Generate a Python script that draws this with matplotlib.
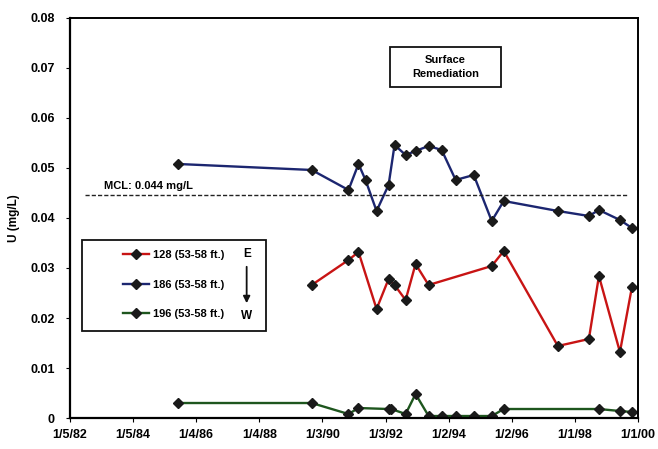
import matplotlib
matplotlib.use("Agg")
import matplotlib.pyplot as plt
from matplotlib.patches import Rectangle
import datetime as dt

plt.rcParams['font.family'] = ['Liberation Sans', 'DejaVu Sans']

# ---- data ----
red_dates = ["1989-09-01", "1990-10-31", "1991-02-24", "1991-09-21", "1992-02-07", "1992-04-16",
             "1992-08-22", "1992-12-15", "1993-05-15", "1995-05-15", "1995-10-01", "1997-06-18",
             "1998-06-12", "1998-10-06", "1999-06-06", "1999-10-23"]
red_vals = [0.0266, 0.0316, 0.0332, 0.0218, 0.0278, 0.0266, 0.0236, 0.0308, 0.0266,
            0.0304, 0.0334, 0.0144, 0.0158, 0.0284, 0.0132, 0.0262]

blue_dates = ["1985-06-09", "1989-09-01", "1990-10-31", "1991-02-24", "1991-05-16", "1991-09-21",
              "1992-02-07", "1992-04-16", "1992-08-22", "1992-12-15", "1993-05-15", "1993-10-13",
              "1994-03-24", "1994-10-19", "1995-05-15", "1995-10-01", "1997-06-18", "1998-06-12",
              "1998-10-06", "1999-06-06", "1999-10-23"]
blue_vals = [0.0508, 0.0496, 0.0456, 0.0508, 0.0476, 0.0414, 0.0466, 0.0546, 0.0526, 0.0534,
             0.0544, 0.0536, 0.0476, 0.0486, 0.0394, 0.0434, 0.0414, 0.0404, 0.0416, 0.0396, 0.0380]

green_dates = ["1985-06-09", "1989-09-01", "1990-10-31", "1991-02-24", "1992-02-07", "1992-03-10",
               "1992-08-22", "1992-12-15", "1993-05-15", "1993-10-13", "1994-03-24", "1994-10-19",
               "1995-05-15", "1995-10-01", "1998-10-06", "1999-06-06", "1999-10-23"]
green_vals = [0.0030, 0.0030, 0.0008, 0.0020, 0.0018, 0.0018, 0.0008, 0.0048, 0.0004, 0.0004,
              0.0004, 0.0004, 0.0004, 0.0018, 0.0018, 0.0014, 0.0012]

series_labels = ["128 (53-58 ft.)", "186 (53-58 ft.)", "196 (53-58 ft.)"]
mcl_value = 0.0446
mcl_label = "MCL: 0.044 mg/L"
y_ticks = [0, 0.01, 0.02, 0.03, 0.04, 0.05, 0.06, 0.07, 0.08]
y_tick_labels = ["0", "0.01", "0.02", "0.03", "0.04", "0.05", "0.06", "0.07", "0.08"]
x_start = "1982-01-05"
x_tick_step_days = 730
x_tick_count = 10
x_tick_labels = ["1/5/82", "1/5/84", "1/4/86", "1/4/88", "1/3/90", "1/3/92",
                 "1/2/94", "1/2/96", "1/1/98", "1/1/00"]

def to_dt(lst):
    return [dt.datetime.strptime(s, "%Y-%m-%d") for s in lst]

fig = plt.figure(figsize=(6.58, 4.49), dpi=100)
ax = fig.add_axes([0.1064, 0.069, 0.8632, 0.891])

start = dt.datetime.strptime(x_start, "%Y-%m-%d")
xticks = [start + dt.timedelta(days=x_tick_step_days * i) for i in range(x_tick_count)]

mk = dict(marker='D', markersize=4.8, markeredgecolor='#1a1a1a', markerfacecolor='#1a1a1a', linewidth=1.7)
l1, = ax.plot(to_dt(red_dates), red_vals, color='#c81414', label=series_labels[0], **mk)
l2, = ax.plot(to_dt(blue_dates), blue_vals, color='#1c2670', label=series_labels[1], **mk)
l3, = ax.plot(to_dt(green_dates), green_vals, color='#1e561e', label=series_labels[2], **mk)

# MCL line
ax.plot([start + dt.timedelta(days=170), start + dt.timedelta(days=6460)], [mcl_value, mcl_value],
        color='#222222', linestyle=(0, (3, 1.5)), linewidth=1.0)
ax.text(start + dt.timedelta(days=390), mcl_value + 0.0007, mcl_label, fontsize=8,
        fontweight='bold', ha='left', va='bottom')

ax.set_xlim(xticks[0], xticks[-1])
ax.set_ylim(0, 0.08)
ax.set_xticks(xticks)
ax.set_xticklabels(x_tick_labels, fontsize=9, fontweight='bold')
ax.set_yticks(y_ticks)
ax.set_yticklabels(y_tick_labels, fontsize=9, fontweight='bold')
ax.tick_params(axis='both', length=3, width=0.8, direction='out')
ax.tick_params(axis='y', pad=8)
ax.tick_params(axis='x', pad=5)
ax.set_ylabel("U (mg/L)", fontsize=8.5, fontweight='bold', labelpad=7)

for side in ['left', 'bottom']:
    ax.spines[side].set_linewidth(1.6)
for side in ['top', 'right']:
    ax.spines[side].set_linewidth(1.4)

# Surface Remediation box
ax.add_patch(Rectangle((0.564, 0.8275), 0.194, 0.1, transform=ax.transAxes, facecolor='white',
                       edgecolor='#111111', linewidth=1.3, zorder=4))
ax.text(0.661, 0.8775, "Surface\nRemediation", transform=ax.transAxes, fontsize=8, fontweight='bold',
        ha='center', va='center', linespacing=1.5, zorder=5)

# Legend
ax.add_patch(Rectangle((0.021, 0.2175), 0.324, 0.2275, transform=ax.transAxes, facecolor='white',
                       edgecolor='#111111', linewidth=1.3, zorder=4))
leg = ax.legend(handles=[l1, l2, l3], loc='upper left', bbox_to_anchor=(0.088, 0.428),
                frameon=False, handlelength=2.3, borderpad=0.3, labelspacing=1.75,
                handletextpad=0.35, borderaxespad=0, prop={'weight': 'bold', 'size': 8})
leg.set_zorder(5)
ax.text(0.311, 0.41, "E", transform=ax.transAxes, fontsize=8.5, fontweight='bold', ha='center', va='center', zorder=6)
ax.text(0.311, 0.255, "W", transform=ax.transAxes, fontsize=8.5, fontweight='bold', ha='center', va='center', zorder=6)
ax.annotate("", xy=(0.311, 0.28), xytext=(0.311, 0.385), xycoords='axes fraction',
            arrowprops=dict(arrowstyle='-|>', color='#111111', lw=1.3, mutation_scale=10), zorder=6)

fig.savefig("out.png", dpi=100)
